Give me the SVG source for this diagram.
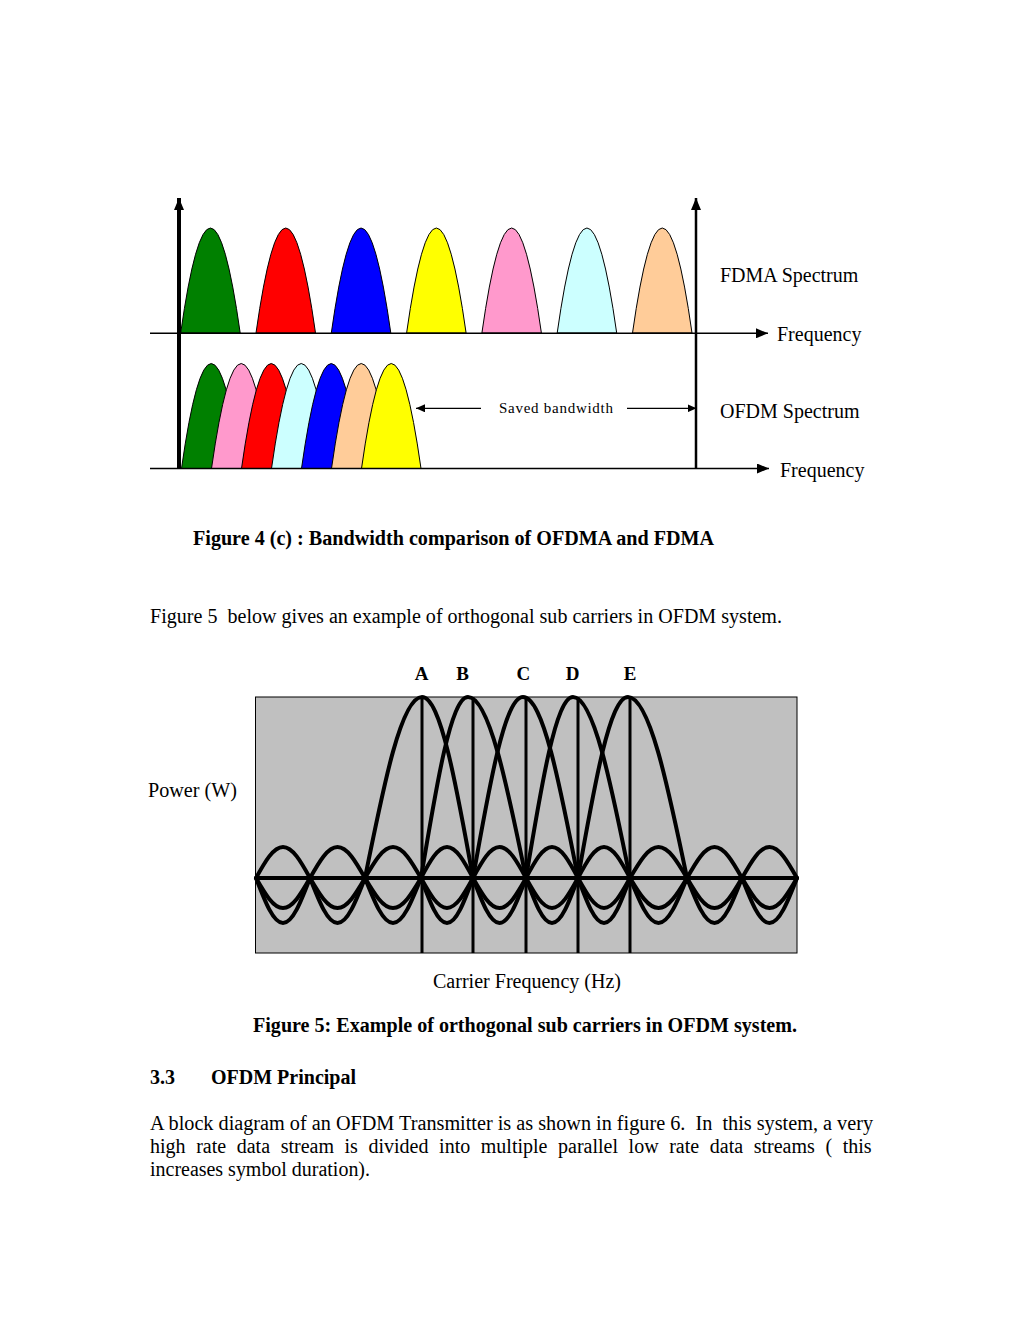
<svg xmlns="http://www.w3.org/2000/svg" width="1024" height="1325" viewBox="0 0 1024 1325">
<defs>
<style>
.t{font-family:"Liberation Serif","Times New Roman",serif;font-size:20px;fill:#000}
.b{font-weight:bold}
.hump{stroke:#000;stroke-width:1}
.ax{stroke:#000;fill:none}
.lobe{stroke:#000;stroke-width:4;fill:none;stroke-linejoin:round;stroke-linecap:round}
</style>
<marker id="ah" markerUnits="userSpaceOnUse" markerWidth="12" markerHeight="10" refX="12" refY="5" orient="auto"><path d="M0,0 L12,5 L0,10 Z" fill="#000"/></marker>
<marker id="ahs" markerUnits="userSpaceOnUse" markerWidth="9" markerHeight="8" refX="9" refY="4" orient="auto"><path d="M0,0 L9,4 L0,8 Z" fill="#000"/></marker>
</defs>
<rect width="1024" height="1325" fill="#fff"/>

<g id="fdma-spectrum">
<path class="hump" fill="#008000" d="M180.7,333 Q210.45,123 240.2,333 Z"/>
<path class="hump" fill="#ff0000" d="M256,333 Q285.75,123 315.5,333 Z"/>
<path class="hump" fill="#0000ff" d="M331.3,333 Q361.05,123 390.8,333 Z"/>
<path class="hump" fill="#ffff00" d="M406.6,333 Q436.35,123 466.1,333 Z"/>
<path class="hump" fill="#ff99cc" d="M481.9,333 Q511.65,123 541.4,333 Z"/>
<path class="hump" fill="#ccffff" d="M557.2,333 Q586.95,123 616.7,333 Z"/>
<path class="hump" fill="#ffcc99" d="M632.5,333 Q662.25,123 692,333 Z"/>
</g>

<g id="ofdm-spectrum">
<path class="hump" fill="#008000" d="M181.5,468.5 Q211.25,258.5 241,468.5 Z"/>
<path class="hump" fill="#ff99cc" d="M211.5,468.5 Q241.25,258.5 271,468.5 Z"/>
<path class="hump" fill="#ff0000" d="M241.5,468.5 Q271.25,258.5 301,468.5 Z"/>
<path class="hump" fill="#ccffff" d="M271.5,468.5 Q301.25,258.5 331,468.5 Z"/>
<path class="hump" fill="#0000ff" d="M301.5,468.5 Q331.25,258.5 361,468.5 Z"/>
<path class="hump" fill="#ffcc99" d="M331.5,468.5 Q361.25,258.5 391,468.5 Z"/>
<path class="hump" fill="#ffff00" d="M361.5,468.5 Q391.25,258.5 421,468.5 Z"/>
</g>

<g id="connectors">
<line class="ax" x1="179" y1="469" x2="179" y2="198" stroke-width="4" marker-end="url(#ah)"/>
<line class="ax" x1="696" y1="469" x2="696" y2="198" stroke-width="2.5" marker-end="url(#ah)"/>
<line class="ax" x1="150" y1="333.3" x2="768" y2="333.3" stroke-width="1.5" marker-end="url(#ah)"/>
<line class="ax" x1="150" y1="468.5" x2="769" y2="468.5" stroke-width="1.5" marker-end="url(#ah)"/>
<line class="ax" x1="481" y1="408.3" x2="416" y2="408.3" stroke-width="1.3" marker-end="url(#ahs)"/>
<line class="ax" x1="627" y1="408.3" x2="696.5" y2="408.3" stroke-width="1.3" marker-end="url(#ahs)"/>
</g>

<g id="fig4-labels">
<text class="t" x="720" y="282">FDMA Spectrum</text>
<text class="t" x="777" y="341">Frequency</text>
<text class="t" x="720" y="418">OFDM Spectrum</text>
<text class="t" x="780" y="476.5">Frequency</text>
<text class="t" x="499" y="413" style="font-size:15px" textLength="114" lengthAdjust="spacing">Saved bandwidth</text>
<text class="t b" x="193" y="545" textLength="521" lengthAdjust="spacingAndGlyphs">Figure 4 (c) : Bandwidth comparison of OFDMA and FDMA</text>
</g>

<text class="t" x="150" y="623" xml:space="preserve" textLength="632" lengthAdjust="spacingAndGlyphs">Figure 5  below gives an example of orthogonal sub carriers in OFDM system.</text>

<g id="fig5">
<rect x="255.5" y="697" width="541.5" height="256" fill="#c0c0c0" stroke="#000" stroke-width="1"/>
<line x1="256" y1="878" x2="797" y2="878" stroke="#000" stroke-width="4"/>
<g stroke="#000" stroke-width="3">
<line x1="422" y1="697" x2="422" y2="953"/>
<line x1="473" y1="697" x2="473" y2="953"/>
<line x1="526" y1="697" x2="526" y2="953"/>
<line x1="578" y1="697" x2="578" y2="953"/>
<line x1="630" y1="697" x2="630" y2="953"/>
</g>
<path class="lobe" stroke-width="4.5" d="M256,878 c9.03,-16.28 17.27,-31 27,-31 c9.73,0 17.97,14.72 27,31 c9.19,-16.28 17.59,-31 27.5,-31 c9.91,0 18.31,14.72 27.5,31 c9.36,-16.28 17.91,-31 28,-31 c10.09,0 18.64,14.72 28,31 c8.69,-16.28 16.63,-31 26,-31 c9.37,0 17.31,14.72 26,31 c8.86,-16.28 16.95,-31 26.5,-31 c9.55,0 17.64,14.72 26.5,31 c8.69,-16.28 16.63,-31 26,-31 c9.37,0 17.31,14.72 26,31 c8.69,-16.28 16.63,-31 26,-31 c9.37,0 17.31,14.72 26,31 c9.53,-16.28 18.23,-31 28.5,-31 c10.27,0 18.97,14.72 28.5,31 c9.19,-16.28 17.59,-31 27.5,-31 c9.91,0 18.31,14.72 27.5,31 c9.19,-16.28 17.59,-31 27.5,-31 c9.91,0 18.31,14.72 27.5,31"/>
<path class="lobe" d="M256,878 c9.03,15.75 17.27,30 27,30 c9.73,0 17.97,-14.25 27,-30 c9.19,15.75 17.59,30 27.5,30 c9.91,0 18.31,-14.25 27.5,-30 c9.36,15.75 17.91,30 28,30 c10.09,0 18.64,-14.25 28,-30 c8.69,15.75 16.63,30 26,30 c9.37,0 17.31,-14.25 26,-30 c8.86,15.75 16.95,30 26.5,30 c9.55,0 17.64,-14.25 26.5,-30 c8.69,15.75 16.63,30 26,30 c9.37,0 17.31,-14.25 26,-30 c8.69,15.75 16.63,30 26,30 c9.37,0 17.31,-14.25 26,-30 c9.53,15.75 18.23,30 28.5,30 c10.27,0 18.97,-14.25 28.5,-30 c9.19,15.75 17.59,30 27.5,30 c9.91,0 18.31,-14.25 27.5,-30 c9.19,15.75 17.59,30 27.5,30 c9.91,0 18.31,-14.25 27.5,-30"/>
<path class="lobe" d="M256,878 c9.03,23.63 17.27,45 27,45 c9.73,0 17.97,-21.37 27,-45 c9.19,23.63 17.59,45 27.5,45 c9.91,0 18.31,-21.37 27.5,-45 c9.36,23.63 17.91,45 28,45 c10.09,0 18.64,-21.37 28,-45 c8.69,23.63 16.63,45 26,45 c9.37,0 17.31,-21.37 26,-45 c8.86,23.63 16.95,45 26.5,45 c9.55,0 17.64,-21.37 26.5,-45 c8.69,23.63 16.63,45 26,45 c9.37,0 17.31,-21.37 26,-45 c8.69,23.63 16.63,45 26,45 c9.37,0 17.31,-21.37 26,-45 c9.53,23.63 18.23,45 28.5,45 c10.27,0 18.97,-21.37 28.5,-45 c9.19,23.63 17.59,45 27.5,45 c9.91,0 18.31,-21.37 27.5,-45 c9.19,23.63 17.59,45 27.5,45 c9.91,0 18.31,-21.37 27.5,-45"/>
<g id="main-lobes">
<path class="lobe" d="M365,878 C384.06,782.96 401.46,697 422,697 C440.38,697 455.95,782.96 473,878"/>
<path class="lobe" d="M421,878 C436.71,782.96 451.07,697 468,697 C488.9,697 506.61,782.96 526,878"/>
<path class="lobe" d="M473,878 C489.72,782.96 504.99,697 523,697 C542.82,697 559.61,782.96 578,878"/>
<path class="lobe" d="M526,878 C541.71,782.96 556.07,697 573,697 C593.54,697 610.94,782.96 630,878"/>
<path class="lobe" d="M578,878 C594.72,782.96 609.99,697 628,697 C649.26,697 667.28,782.96 687,878"/>
</g>
<g class="t b" style="font-size:19px" text-anchor="middle">
<text x="421.7" y="680">A</text>
<text x="462.7" y="680">B</text>
<text x="523.3" y="680">C</text>
<text x="572.7" y="680">D</text>
<text x="630" y="680">E</text>
</g>
<text class="t" x="148" y="797" textLength="89" lengthAdjust="spacingAndGlyphs">Power (W)</text>
<text class="t" x="433" y="988" textLength="188" lengthAdjust="spacingAndGlyphs">Carrier Frequency (Hz)</text>
<text class="t b" x="253" y="1032" textLength="544" lengthAdjust="spacingAndGlyphs">Figure 5: Example of orthogonal sub carriers in OFDM system.</text>
</g>

<g id="section">
<text class="t b" x="150" y="1084">3.3</text>
<text class="t b" x="211" y="1084" textLength="145" lengthAdjust="spacingAndGlyphs">OFDM Principal</text>
<text class="t" x="150" y="1130" xml:space="preserve" textLength="723" lengthAdjust="spacingAndGlyphs">A block diagram of an OFDM Transmitter is as shown in figure 6.  In  this system, a very</text>
<text class="t" x="150" y="1153" word-spacing="5.6">high rate data stream is divided into multiple parallel low rate data streams ( this</text>
<text class="t" x="150" y="1176" textLength="220" lengthAdjust="spacingAndGlyphs">increases symbol duration).</text>
</g>
</svg>
